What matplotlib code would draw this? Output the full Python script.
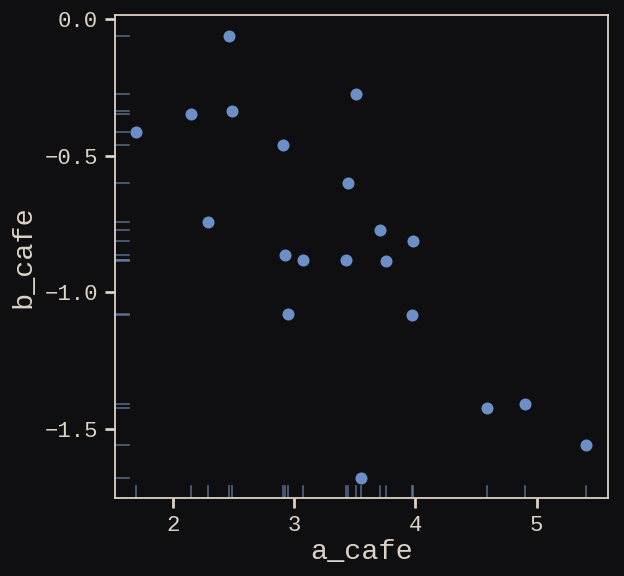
import numpy as np
import matplotlib.pyplot as plt

# posterior means of the cafe intercepts / slopes
a_cafe = [1.69, 2.15, 2.46, 2.49, 2.29, 2.91, 2.92, 2.95, 3.07, 3.51,
          3.44, 3.43, 3.71, 3.76, 3.98, 3.97, 3.55, 4.59, 4.90, 5.41]
b_cafe = [-0.413, -0.348, -0.062, -0.337, -0.743, -0.461, -0.864, -1.079, -0.882, -0.274,
          -0.600, -0.882, -0.772, -0.885, -0.812, -1.083, -1.679, -1.423, -1.409, -1.559]

bg = "#0f0f12"
fg = "#ddd3c4"
dot = "#6c90c6"
rug = "#6a82a6"

plt.rcParams['font.family'] = ['Liberation Mono', 'DejaVu Sans Mono']

fig = plt.figure(figsize=(6.24, 5.76), dpi=100, facecolor=bg)
ax = fig.add_axes([0.184, 0.135, 0.790, 0.839], facecolor=bg)

ax.scatter(a_cafe, b_cafe, s=75, color=dot, zorder=3, linewidths=0)

# rug marks along both axes
for x in a_cafe:
    ax.plot([x, x], [0, 0.025], transform=ax.get_xaxis_transform(),
            color=rug, lw=1.2, alpha=0.75, zorder=2)
for y in b_cafe:
    ax.plot([0, 0.028], [y, y], transform=ax.get_yaxis_transform(),
            color=rug, lw=1.2, alpha=0.75, zorder=2)

ax.set_xlim(1.519, 5.587)
ax.set_ylim(-1.753, 0.0146)
ax.set_xticks([2, 3, 4, 5])
ax.set_yticks([0.0, -0.5, -1.0, -1.5])
ax.set_yticklabels(["0.0", "\u22120.5", "\u22121.0", "\u22121.5"])

for s in ax.spines.values():
    s.set_color(fg)
    s.set_linewidth(1.3)
ax.tick_params(colors=fg, labelsize=16, length=7, width=2, direction='out', pad=5)

ax.set_xlabel("a_cafe", color=fg, fontsize=20.5, labelpad=2)
ax.set_ylabel("b_cafe", color=fg, fontsize=20.5, labelpad=6)

plt.savefig("out.png", facecolor=bg)
